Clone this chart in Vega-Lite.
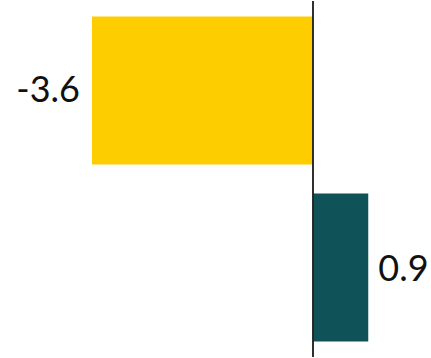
{
  "$schema": "https://vega.github.io/schema/vega-lite/v6.json",
  "width": 431,
  "height": 358,
  "padding": 0,
  "autosize": {"type": "fit", "contains": "padding"},
  "config": {"view": {"stroke": null}},
  "data": {"values": [
    {"cat": "A", "value": -3.6, "label": "-3.6", "color": "#FDCD00"},
    {"cat": "B", "value": 0.9, "label": "0.9", "color": "#0F5257"}
  ]},
  "encoding": {
    "y": {"field": "cat", "type": "nominal", "axis": null,
      "scale": {"paddingInner": 0.163, "paddingOuter": 0.087}},
    "x": {"field": "value", "type": "quantitative", "axis": null,
      "scale": {"domain": [-5.098, 1.922], "nice": false, "zero": false}}
  },
  "layer": [
    {"mark": {"type": "bar"},
     "encoding": {"color": {"field": "color", "type": "nominal", "scale": null}}},
    {"mark": {"type": "rule", "color": "#222222", "strokeWidth": 1.5},
     "encoding": {"x": {"datum": 0, "type": "quantitative"}, "y": null}},
    {"transform": [{"filter": "datum.value < 0"}],
     "mark": {"type": "text", "align": "right", "baseline": "middle", "dx": -12, "dy": 1, "font": "Lato", "fontSize": 36, "color": "#111111"},
     "encoding": {"text": {"field": "label"}}},
    {"transform": [{"filter": "datum.value >= 0"}],
     "mark": {"type": "text", "align": "left", "baseline": "middle", "dx": 10, "dy": 2, "font": "Lato", "fontSize": 36, "color": "#111111"},
     "encoding": {"text": {"field": "label"}}}
  ]
}
